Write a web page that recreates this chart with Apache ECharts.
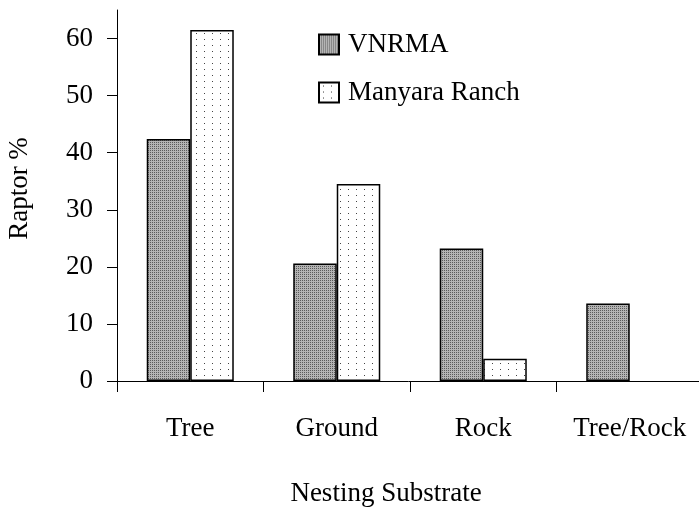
<!DOCTYPE html>
<html>
<head>
<meta charset="utf-8">
<title>Raptor nesting substrate</title>
<script src="https://cdn.jsdelivr.net/npm/echarts@6/dist/echarts.min.js"></script>
<style>
  html, body { margin: 0; padding: 0; background: #fff; }
  #chart { width: 699px; height: 510px; }
</style>
</head>
<body>
<div id="chart"></div>
<script>
const categories = ['Tree', 'Ground', 'Rock', 'Tree/Rock']
const vnrma = [42.4, 20.6, 23.2, 13.6]
const manyara = [61.5, 34.5, 3.9, 0]
const yTicks = [0, 10, 20, 30, 40, 50, 60]

const font = 'Liberation Serif'

// fill patterns like the old print: grey stipple and white with dots
function stipplePattern() {
  const c = document.createElement('canvas')
  c.width = 4
  c.height = 4
  const ctx = c.getContext('2d')
  ctx.fillStyle = '#b4b4b4'
  ctx.fillRect(0, 0, 4, 4)
  ctx.fillStyle = '#5a5a5a'
  ctx.fillRect(0, 0, 1, 1)
  ctx.fillRect(2, 2, 1, 1)
  ctx.fillRect(2, 0, 1, 1)
  ctx.fillRect(0, 2, 1, 1)
  return { image: c, repeat: 'repeat' }
}

function dotPattern() {
  const c = document.createElement('canvas')
  c.width = 8
  c.height = 6
  const ctx = c.getContext('2d')
  ctx.fillStyle = '#ffffff'
  ctx.fillRect(0, 0, 8, 6)
  ctx.fillStyle = '#444444'
  ctx.fillRect(4, 3, 1, 1)
  return { image: c, repeat: 'repeat' }
}

const chart = echarts.init(document.getElementById('chart'))

const axisText = { color: '#000', fontFamily: font, fontSize: 27 }

chart.setOption({
  backgroundColor: '#fff',
  animation: false,
  grid: { left: 117, top: 10, width: 586, height: 371, outerBoundsMode: 'none' },
  legend: {
    orient: 'vertical',
    left: 313,
    top: 26,
    itemWidth: 20,
    itemHeight: 20,
    itemGap: 21,
    icon: 'rect',
    textStyle: { color: '#000', fontFamily: font, fontSize: 27, lineHeight: 27, padding: [0, 0, 0, 4] },
    data: ['VNRMA', 'Manyara Ranch'],
  },
  xAxis: {
    type: 'category',
    data: categories,
    name: 'Nesting Substrate',
    nameLocation: 'middle',
    nameGap: 99,
    nameTextStyle: { ...axisText, padding: [0, 48, 0, 0] },
    axisLine: { show: true, lineStyle: { color: '#000', width: 1 } },
    axisTick: { show: true, alignWithLabel: false, interval: 0, length: 11, lineStyle: { color: '#000', width: 1 } },
    axisLabel: { ...axisText, margin: 34, interval: 0 },
    splitLine: { show: false },
  },
  yAxis: {
    type: 'value',
    min: 0,
    max: 65,
    interval: 10,
    name: 'Raptor %',
    nameLocation: 'middle',
    nameRotate: 90,
    nameGap: 84,
    nameTextStyle: { ...axisText, padding: [0, 0, 0, 14] },
    axisLine: { show: true, lineStyle: { color: '#000', width: 1 } },
    axisTick: { show: true, length: 10, customValues: yTicks, lineStyle: { color: '#000' } },
    axisLabel: { ...axisText, margin: 24, customValues: yTicks },
    splitLine: { show: false },
  },
  series: [
    {
      name: 'VNRMA',
      type: 'bar',
      data: vnrma,
      barWidth: '29.7%',
      barGap: '0%',
      itemStyle: { color: stipplePattern(), borderColor: '#000', borderWidth: 1.5 },
    },
    {
      name: 'Manyara Ranch',
      type: 'bar',
      data: manyara.map((v) => (v === 0 ? null : v)),
      barWidth: '29.7%',
      barGap: '0%',
      itemStyle: { color: dotPattern(), borderColor: '#000', borderWidth: 1.5 },
    },
  ],
})
</script>
</body>
</html>
